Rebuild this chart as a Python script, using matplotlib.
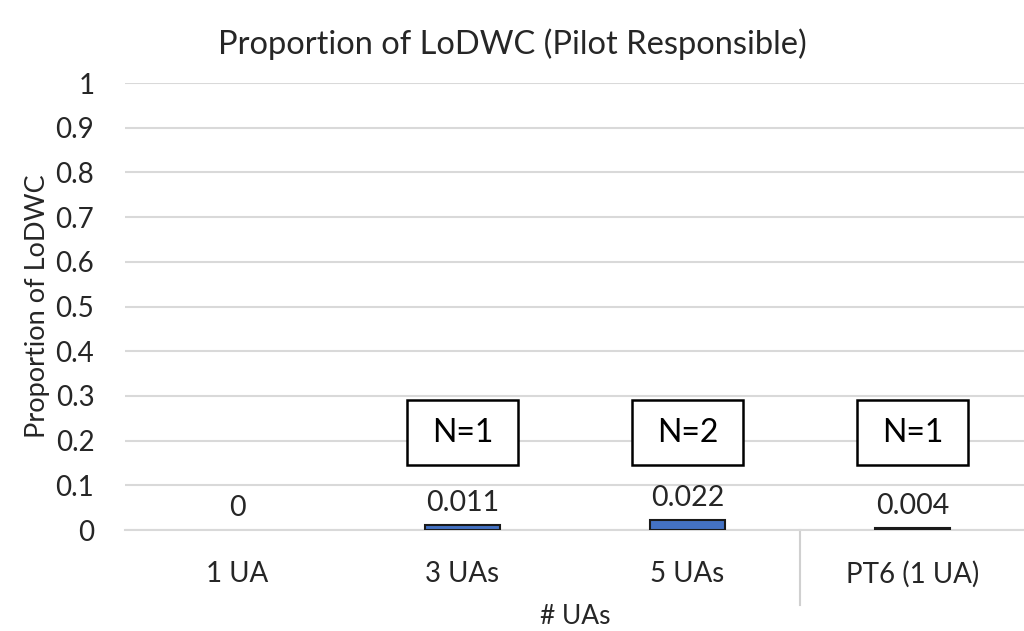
import numpy as np
import matplotlib.pyplot as plt
from matplotlib.patches import Rectangle
from matplotlib.transforms import blended_transform_factory

plt.rcParams['font.family'] = ['Lato', 'DejaVu Sans']

# data
categories = ['1 UA', '3 UAs', '5 UAs', 'PT6 (1 UA)']
proportions = [0.0, 0.011, 0.022, 0.004]
value_labels = ['0', '0.011', '0.022', '0.004']
n_labels = [None, 'N=1', 'N=2', 'N=1']

fig = plt.figure(figsize=(10.24, 6.31), dpi=100)
ax = fig.add_axes([0.122, 0.16, 0.879, 0.7084])

x = np.arange(len(categories))
edge_w = [0 if v == 0 else 1.5 for v in proportions]
ax.bar(x, proportions, width=0.33, color='#4472C4', edgecolor='#1a1a1a',
       linewidth=edge_w, zorder=3)

for xi, val, lab in zip(x, proportions, value_labels):
    ax.text(xi, val + 0.02, lab, ha='center', va='bottom', fontsize=20.5,
            color='#262626', zorder=4)

# N boxes
for xi, n in zip(x, n_labels):
    if n is None:
        continue
    ax.add_patch(Rectangle((xi - 0.245, 0.145), 0.49, 0.145, facecolor='white',
                           edgecolor='black', linewidth=1.8, zorder=4))
    ax.text(xi, 0.2175, n, ha='center', va='center', fontsize=23,
            color='black', zorder=5)

ax.set_xlim(-0.5, len(categories) - 0.5)
ax.set_ylim(0, 1)
ax.set_yticks(np.arange(0, 1.01, 0.1))
ax.set_yticklabels(['0', '0.1', '0.2', '0.3', '0.4', '0.5', '0.6', '0.7',
                    '0.8', '0.9', '1'])
ax.set_xticks(x)
ax.set_xticklabels(categories)
ax.tick_params(axis='both', length=0, labelsize=20, labelcolor='#262626')
ax.tick_params(axis='x', pad=22)
ax.tick_params(axis='y', pad=22)

ax.grid(axis='y', color='#d9d9d9', linewidth=1.5, zorder=0)
for s in ['top', 'right', 'left']:
    ax.spines[s].set_visible(False)
ax.spines['bottom'].set_color('#d9d9d9')
ax.spines['bottom'].set_linewidth(1.5)

# separator between group and PT6
trans = blended_transform_factory(ax.transData, ax.transAxes)
ax.plot([2.5, 2.5], [0, -0.168], transform=trans, color='#d0d0d0',
        linewidth=1.5, clip_on=False)

ax.set_xlabel('# UAs', fontsize=19, color='#262626', labelpad=12)
ax.set_ylabel('Proportion of LoDWC', fontsize=19.5, color='#262626', labelpad=4)
fig.suptitle('Proportion of LoDWC (Pilot Responsible)', fontsize=23.5,
             color='#262626', y=0.955)

fig.savefig('out.png', dpi=100)
